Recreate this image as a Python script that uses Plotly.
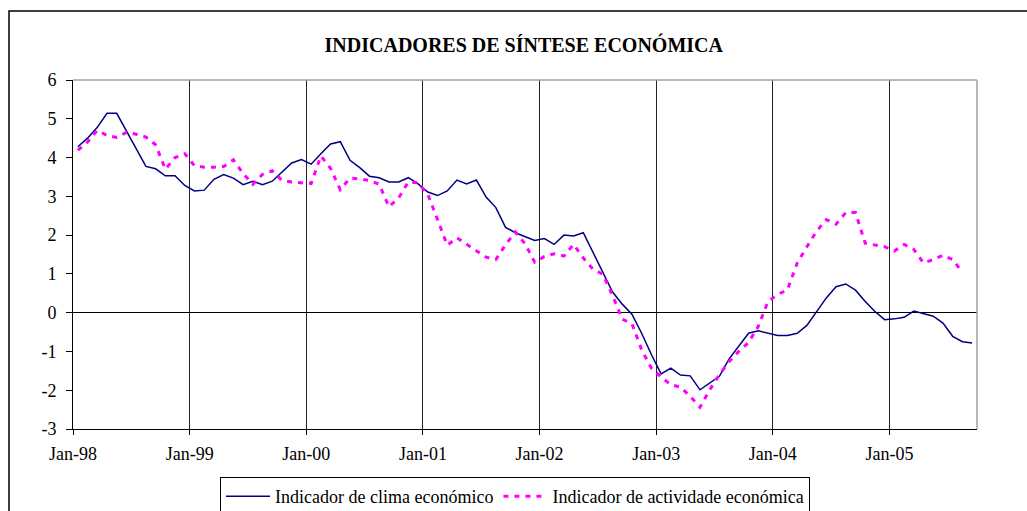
import plotly.graph_objects as go

# Monthly data Jan-98 .. Sep-05
year_labels = ["Jan-98", "Jan-99", "Jan-00", "Jan-01", "Jan-02", "Jan-03", "Jan-04", "Jan-05"]
months_total = 93  # Jan-98 .. Sep-05
y_ticks = [-3, -2, -1, 0, 1, 2, 3, 4, 5, 6]
y_tick_labels = ["-3", "-2", "-1", "0", "1", "2", "3", "4", "5", "6"]

clima = [
    4.28, 4.50, 4.78, 5.14, 5.14, 4.68, 4.22, 3.77, 3.71, 3.53, 3.53, 3.28,
    3.14, 3.16, 3.44, 3.56, 3.47, 3.30, 3.39, 3.30, 3.39, 3.62, 3.86, 3.95,
    3.83, 4.10, 4.35, 4.41, 3.93, 3.74, 3.52, 3.48, 3.37, 3.37, 3.48, 3.32,
    3.11, 3.02, 3.14, 3.42, 3.32, 3.42, 2.98, 2.71, 2.20, 2.06, 1.96, 1.86,
    1.91, 1.76, 2.00, 1.98, 2.06, 1.56, 1.05, 0.54, 0.22, -0.04, -0.53, -1.08,
    -1.58, -1.43, -1.61, -1.63, -1.99, -1.82, -1.64, -1.19, -0.85, -0.53, -0.47, -0.53,
    -0.59, -0.59, -0.53, -0.33, 0.01, 0.38, 0.67, 0.74, 0.58, 0.29, 0.03, -0.18,
    -0.16, -0.12, 0.04, -0.03, -0.09, -0.27, -0.61, -0.75, -0.78,
]

actividade = [
    4.19, 4.40, 4.70, 4.57, 4.52, 4.65, 4.60, 4.53, 4.33, 3.70, 4.00, 4.10,
    3.79, 3.75, 3.75, 3.77, 3.94, 3.59, 3.31, 3.57, 3.66, 3.41, 3.37, 3.35,
    3.33, 4.04, 3.72, 3.17, 3.47, 3.45, 3.41, 3.31, 2.73, 2.96, 3.37, 3.35,
    3.05, 2.40, 1.74, 1.93, 1.76, 1.59, 1.43, 1.37, 1.75, 2.08, 1.78, 1.30,
    1.45, 1.52, 1.46, 1.76, 1.41, 1.12, 0.99, 0.45, -0.17, -0.28, -0.96, -1.43,
    -1.66, -1.86, -1.92, -2.16, -2.44, -1.99, -1.60, -1.26, -1.00, -0.77, -0.35, 0.29,
    0.47, 0.59, 1.28, 1.70, 2.10, 2.40, 2.28, 2.58, 2.58, 1.79, 1.74, 1.70,
    1.59, 1.76, 1.63, 1.28, 1.37, 1.48, 1.37, 1.04,
]

x_clima = list(range(len(clima)))
x_activ = list(range(len(actividade)))
year_ticks = [-0.5 + 12 * k for k in range(len(year_labels))]

serif = "Liberation Serif, Times New Roman, serif"

fig = go.Figure()
fig.add_trace(go.Scatter(
    x=x_clima, y=clima, mode="lines", name="Indicador de clima económico",
    line=dict(color="#000080", width=1.5),
))
fig.add_trace(go.Scatter(
    x=x_activ, y=actividade, mode="lines", name="Indicador de actividade económica",
    line=dict(color="#FF00FF", width=3, dash="5px,6px"),
))

fig.update_layout(
    width=1027, height=511,
    margin=dict(l=73, r=50, t=80, b=82, autoexpand=False),
    paper_bgcolor="white", plot_bgcolor="white",
    font=dict(family=serif, size=18, color="black"),
    title=dict(text="<b>INDICADORES DE SÍNTESE ECONÓMICA</b>",
               x=0.51, xanchor="center", y=0.912, yanchor="middle",
               font=dict(family=serif, size=20, color="black")),
    showlegend=True,
    legend=dict(orientation="h", xref="container", yref="container",
                x=515 / 1027, xanchor="center", y=1 - 477 / 511, yanchor="top",
                bordercolor="black", borderwidth=1, bgcolor="white",
                font=dict(family=serif, size=18, color="black"),
                itemwidth=44, tracegroupgap=0),
    xaxis=dict(range=[-0.5, months_total - 0.5], tickmode="array",
               tickvals=year_ticks, ticktext=year_labels,
               showgrid=True, gridcolor="#222222", gridwidth=1,
               ticks="outside", ticklen=5, tickcolor="black",
               showline=True, linecolor="black", linewidth=1,
               zeroline=False, ticklabelstandoff=3, automargin=False,
               tickfont=dict(family=serif, size=18, color="black")),
    yaxis=dict(range=[-3, 6], tickmode="array", tickvals=y_ticks, ticktext=y_tick_labels,
               showgrid=False,
               ticks="outside", ticklen=6, tickcolor="black",
               showline=True, linecolor="black", linewidth=1,
               zeroline=True, zerolinecolor="black", zerolinewidth=1,
               ticklabelstandoff=6, automargin=False,
               tickfont=dict(family=serif, size=18, color="black")),
    shapes=[
        # plot-area border (top and right, gray)
        dict(type="line", xref="paper", yref="paper", x0=0, x1=1, y0=1, y1=1,
             line=dict(color="#a0a0a0", width=1.5)),
        dict(type="line", xref="paper", yref="paper", x0=1, x1=1, y0=0, y1=1,
             line=dict(color="#a0a0a0", width=1.5)),
        # outer chart frame
        dict(type="rect", xref="paper", yref="paper",
             x0=(9 - 73) / 904, x1=(1040 - 73) / 904,
             y0=(429 - 530) / 349, y1=(429 - 11) / 349,
             line=dict(color="black", width=1.5), layer="below"),
    ],
)

fig.write_html("out.html", config={"displayModeBar": False},
               post_script="document.body.style.margin='0';")
